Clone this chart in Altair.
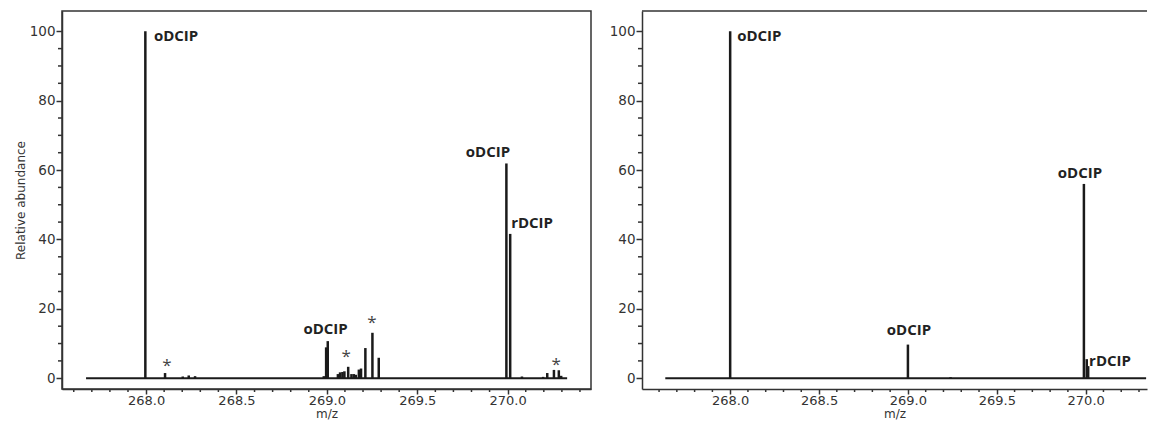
import altair as alt
import pandas as pd

# ---------------- data ----------------
# Left spectrum
a_mz = [267.996, 268.105, 268.203, 268.236, 268.271, 268.983, 268.996, 269.005,
        269.061, 269.073, 269.086, 269.097, 269.118, 269.136, 269.149, 269.160,
        269.177, 269.189, 269.213, 269.252, 269.287, 269.993, 270.014, 270.079,
        270.196, 270.219, 270.256, 270.283, 270.296]
a_int = [100, 1.5, 0.5, 0.8, 0.6, 0.6, 8.9, 10.7,
         1.2, 1.7, 1.8, 2.0, 3.3, 1.2, 1.2, 1.0,
         2.5, 2.8, 8.7, 13.1, 5.9, 61.9, 41.6, 0.5,
         0.4, 1.5, 2.4, 2.3, 0.7]
a_range = [267.668, 270.329]
a_lab_text = ["oDCIP", "oDCIP", "oDCIP", "rDCIP"]
a_lab_x = [268.166, 268.993, 269.891, 270.135]
a_lab_y = [98.7, 14.1, 65.3, 44.8]
a_star_x = [268.116, 269.107, 269.249, 270.268]
a_star_y = [3.9, 6.3, 16.2, 4.2]
a_domain = [267.535, 270.461]

# Right spectrum
b_mz = [268.0, 269.0, 269.24, 269.99, 270.006, 270.014]
b_int = [100, 9.7, 0.3, 56.0, 5.5, 3.5]
b_range = [267.635, 270.34]
b_lab_text = ["oDCIP", "oDCIP", "oDCIP", "rDCIP"]
b_lab_x = [268.164, 269.006, 269.968, 270.137]
b_lab_y = [98.6, 13.9, 59.2, 5.1]
b_star_x = []
b_star_y = []
b_domain = [267.504, 270.345]

x_major = [268.0, 268.5, 269.0, 269.5, 270.0]
x_minor = [267.6, 267.7, 267.8, 267.9, 268.1, 268.2, 268.3, 268.4, 268.6, 268.7,
           268.8, 268.9, 269.1, 269.2, 269.3, 269.4, 269.6, 269.7, 269.8, 269.9,
           270.1, 270.2, 270.3, 270.4]
y_major = [0, 20, 40, 60, 80, 100]
y_minor = [5, 10, 15, 25, 30, 35, 45, 50, 55, 65, 70, 75, 85, 90, 95]
y_domain = [-3.10, 105.84]

INK = "#1a1a1a"
AX = "#333333"
H = 378


def panel(mz, inten, rng, lab_t, lab_x, lab_y, st_x, st_y, xdom, width, ytitle, full_frame):
    xs = alt.Scale(domain=xdom, nice=False, zero=False)
    ys = alt.Scale(domain=y_domain, nice=False, zero=False)
    xaxis = alt.Axis(values=x_major, format=".1f", title="m/z", labelPadding=0,
                     titlePadding=1.5, tickSize=5, labelFontSize=13)
    if ytitle:
        yaxis = alt.Axis(values=y_major, title="Relative abundance", labelPadding=1,
                         titlePadding=2, tickSize=6)
    else:
        yaxis = alt.Axis(values=y_major, title=None, labelPadding=1, tickSize=6)

    base_df = pd.DataFrame({"x0": [rng[0]], "x1": [min(rng[1], xdom[1])], "y": [0]})
    peaks_df = pd.DataFrame({"mz": mz, "int": inten, "zero": [0] * len(mz)})
    lab_df = pd.DataFrame({"t": lab_t, "x": lab_x, "y": lab_y})
    st_df = pd.DataFrame({"x": st_x, "y": st_y, "t": ["*"] * len(st_x)})
    xmin_df = pd.DataFrame({"v": [v for v in x_minor if v < xdom[1]]})
    ymin_df = pd.DataFrame({"v": y_minor})

    baseline = alt.Chart(base_df).mark_rule(color=INK, strokeWidth=2.2).encode(
        x=alt.X("x0:Q", scale=xs, axis=xaxis), x2="x1:Q",
        y=alt.Y("y:Q", scale=ys, axis=yaxis))
    peaks = alt.Chart(peaks_df).mark_rule(color=INK, strokeWidth=2.5).encode(
        x="mz:Q", y="int:Q", y2="zero:Q")
    labels = alt.Chart(lab_df).mark_text(
        font="Open Sans", fontWeight="bold", fontSize=15, color="#222222",
        align="center", baseline="middle").encode(x="x:Q", y="y:Q", text="t:N")
    xminor = alt.Chart(xmin_df).mark_rule(color=AX, strokeWidth=1.5, clip=False).encode(
        x="v:Q", y=alt.value(H), y2=alt.value(H + 3))
    yminor = alt.Chart(ymin_df).mark_rule(color=AX, strokeWidth=1.5, clip=False).encode(
        y="v:Q", x=alt.value(-4), x2=alt.value(0))
    layers = [baseline, peaks, labels, xminor, yminor]
    if len(st_x):
        stars = alt.Chart(st_df).mark_text(
            font="Open Sans", fontSize=17, color="#444444",
            align="center", baseline="alphabetic", dy=6).encode(x="x:Q", y="y:Q", text="t:N")
        layers.append(stars)
    if full_frame:
        view = alt.ViewBackground(stroke=AX, strokeWidth=1.5)
    else:
        view = alt.ViewBackground(stroke="transparent")
        top = alt.Chart(pd.DataFrame({"a": [0]})).mark_rule(color=AX, strokeWidth=1.5).encode(
            x=alt.value(0), x2=alt.value(width), y=alt.value(0))
        layers.append(top)
    return alt.layer(*layers).properties(width=width, height=H, view=view)


left = panel(a_mz, a_int, a_range, a_lab_text, a_lab_x, a_lab_y, a_star_x, a_star_y,
             a_domain, 529, True, True)
right = panel(b_mz, b_int, b_range, b_lab_text, b_lab_x, b_lab_y, b_star_x, b_star_y,
              b_domain, 505, False, False)

chart = alt.hconcat(left, right, spacing=16).properties(
    padding={"left": 5, "top": 1, "right": 0, "bottom": 0}
).configure_axis(
    labelFont="DejaVu Sans", labelFontSize=13.5, labelColor=AX,
    titleFont="DejaVu Sans", titleFontSize=12, titleFontWeight="normal", titleColor=AX,
    tickColor=AX, tickWidth=1.5,
    domainColor=AX, domainWidth=1.5, grid=False
).configure_view(stroke=AX)

chart.save("out.html", embed_options={"renderer": "svg", "actions": False})
